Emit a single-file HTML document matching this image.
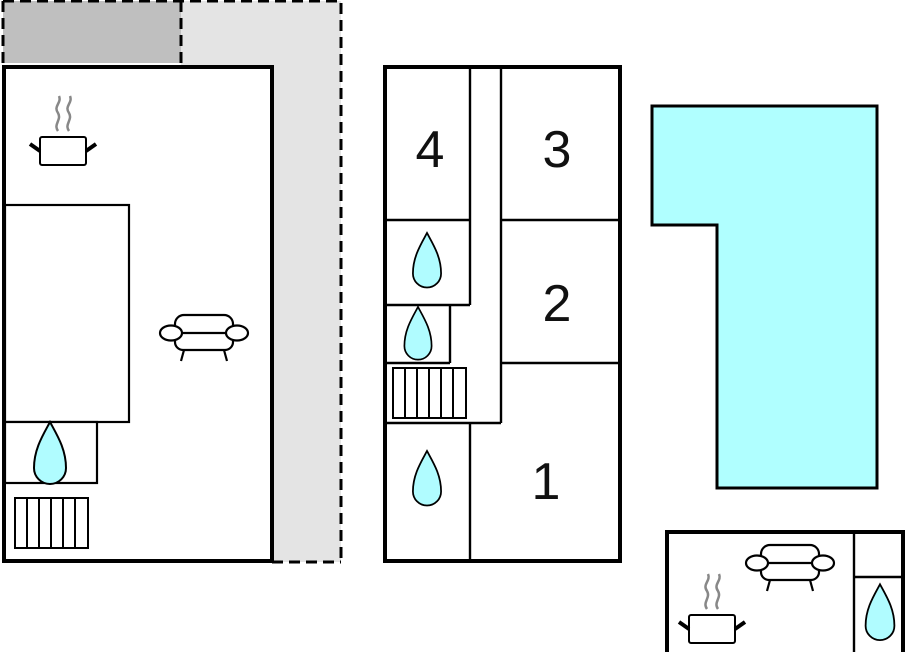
<!DOCTYPE html>
<html><head><meta charset="utf-8"><style>html,body{margin:0;padding:0;background:#fff}svg{display:block}</style></head><body>
<svg width="905" height="652" viewBox="0 0 905 652" xmlns="http://www.w3.org/2000/svg">
<defs>
<g id="drop"><path d="M0,-33 C-7,-20 -16,-6 -16,13 A16,16 0 0 0 16,13 C16,-6 7,-20 0,-33 Z" fill="#b0fcff" stroke="#000" stroke-width="2"/></g>
<g id="sofa" fill="#fff" stroke="#000" stroke-width="2.2">
<rect x="-29" y="-18" width="58" height="20" rx="9"/>
<rect x="-29" y="0" width="58" height="17" rx="8"/>
<ellipse cx="-33" cy="0" rx="11" ry="7.5"/>
<ellipse cx="33" cy="0" rx="11" ry="7.5"/>
<line x1="-20" y1="17" x2="-23" y2="28"/><line x1="20" y1="17" x2="23" y2="28"/>
</g>
<g id="pot">
<path d="M-5,-19 C-10,-26 -1,-30 -5,-37 C-10,-44 -1,-47 -4,-54 M6,-19 C1,-26 10,-30 6,-37 C1,-44 10,-47 7,-54" fill="none" stroke="#888" stroke-width="2.5"/>
<rect x="-23" y="-13" width="46" height="28" rx="2" fill="#fff" stroke="#000" stroke-width="2"/>
<line x1="-33" y1="-6" x2="-23" y2="1" stroke="#000" stroke-width="4"/>
<line x1="33" y1="-6" x2="23" y2="1" stroke="#000" stroke-width="4"/>
</g>
<g id="rad" fill="#fff" stroke="#000" stroke-width="2">
<rect x="0" y="0" width="73" height="50"/>
<path d="M12,0V50M24,0V50M36,0V50M48,0V50M60,0V50"/>
</g>
</defs>
<rect x="181" y="1" width="160" height="561" fill="#e4e4e4"/>
<rect x="3" y="1" width="178" height="62" fill="#bfbfbf"/>
<path d="M3,1 H341 V562 M3,1 V66 M181,1 V66 M272,562 H341" fill="none" stroke="#000" stroke-width="3" stroke-dasharray="11,6"/>
<rect x="4" y="67" width="268" height="494" fill="#fff" stroke="#000" stroke-width="4"/>
<rect x="5" y="205" width="124" height="217" fill="#fff" stroke="#000" stroke-width="2.2"/>
<rect x="5" y="422" width="92" height="61" fill="#fff" stroke="#000" stroke-width="2.2"/>
<use href="#drop" x="50" y="455"/>
<use href="#rad" x="15" y="498"/>
<use href="#pot" x="63" y="150"/>
<use href="#sofa" x="204" y="333"/>
<rect x="385" y="67" width="235" height="494" fill="#fff" stroke="#000" stroke-width="4"/>
<g fill="none" stroke="#000" stroke-width="2.4">
<path d="M470,67 V305 M501,67 V423 M384,220 H470 M501,220 H620 M384,305 H470 M384,363 H450 M450,305 V363 M501,363 H620 M384,423 H501 M470,423 V562"/>
</g>
<use href="#rad" x="393" y="368"/>
<use href="#drop" x="427" y="262" transform="translate(427 262) scale(0.88) translate(-427 -262)"/>
<use href="#drop" x="418" y="335" transform="translate(418 335) scale(0.85) translate(-418 -335)"/>
<use href="#drop" x="427" y="480" transform="translate(427 480) scale(0.88) translate(-427 -480)"/>
<g font-family="Liberation Sans, sans-serif" font-size="52" text-anchor="middle" fill="#111">
<text x="430" y="167">4</text><text x="557" y="167">3</text><text x="557" y="321">2</text><text x="546" y="499">1</text>
</g>
<path d="M652,106 H877 V488 H717 V225 H652 Z" fill="#b0ffff" stroke="#000" stroke-width="3"/>
<rect x="667" y="532" width="236" height="125" fill="#fff" stroke="#000" stroke-width="4"/>
<path d="M854,532 V652 M854,577 H903" stroke="#000" stroke-width="2.4" fill="none"/>
<use href="#drop" x="880" y="614" transform="translate(880 614) scale(0.9) translate(-880 -614)"/>
<use href="#sofa" x="790" y="563"/>
<use href="#pot" x="712" y="628"/>
</svg>
</body></html>
